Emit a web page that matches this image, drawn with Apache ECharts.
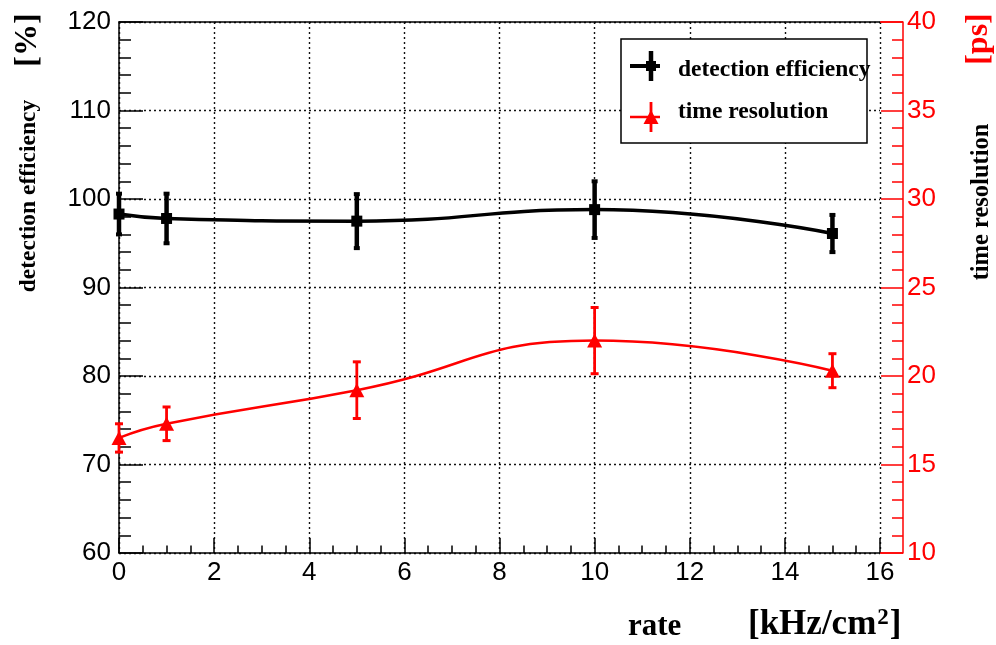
<!DOCTYPE html>
<html>
<head>
<meta charset="utf-8">
<style>
html,body{margin:0;padding:0;background:#fff;}
#main{width:996px;height:645px;}
</style>
<script src="https://cdn.jsdelivr.net/npm/echarts@6/dist/echarts.min.js"></script>
</head>
<body>
<div id="main"></div>
<script>
// ---- data ----
const rates = [0, 1, 5, 10, 15];
const effValues = [98.3, 97.8, 97.5, 98.8, 96.1];
const effErrors = [2.3, 2.8, 3.05, 3.2, 2.1];
const resValues = [16.5, 17.3, 19.2, 22.0, 20.3];
const resErrors = [0.8, 0.95, 1.6, 1.87, 0.96];
const xTicks = [0, 2, 4, 6, 8, 10, 12, 14, 16];
const effTicks = [60, 70, 80, 90, 100, 110, 120];
const resTicks = [10, 15, 20, 25, 30, 35, 40];

const effData = rates.map((r, i) => [r, effValues[i]]);
const resData = rates.map((r, i) => [r, resValues[i]]);
const effErrData = rates.map((r, i) => [r, effValues[i], effErrors[i]]);
const resErrData = rates.map((r, i) => [r, resValues[i], resErrors[i]]);

const chart = echarts.init(document.getElementById('main'));
const labelFont = {fontFamily: 'Liberation Sans', fontSize: 26};
const serifBold = 'Liberation Serif';

function errRenderer(color, lw, capW, capH) {
  return function (params, api) {
    const x = api.value(0), y = api.value(1), e = api.value(2);
    const top = api.coord([x, y + e]);
    const bot = api.coord([x, y - e]);
    return {
      type: 'group',
      children: [
        {type: 'line', shape: {x1: top[0], y1: top[1], x2: bot[0], y2: bot[1]}, style: {stroke: color, lineWidth: lw}},
        {type: 'rect', shape: {x: top[0] - capW / 2, y: top[1] - capH / 2, width: capW, height: capH}, style: {fill: color}},
        {type: 'rect', shape: {x: bot[0] - capW / 2, y: bot[1] - capH / 2, width: capW, height: capH}, style: {fill: color}}
      ]
    };
  };
}

const dotted = {color: '#111', width: 1.4, type: [2, 3]};

const option = {
  animation: false,
  backgroundColor: '#fff',
  grid: {left: 119, right: 116, top: 22, bottom: 92, containLabel: false},
  xAxis: [
    {
      type: 'value', min: xTicks[0], max: xTicks[xTicks.length - 1], interval: 2,
      axisLine: {show: true, onZero: false, lineStyle: {color: '#000', width: 1.5}},
      axisTick: {show: true, inside: true, length: 15, lineStyle: {color: '#000', width: 1.5}},
      minorTick: {show: true, splitNumber: 4, length: 7.5, lineStyle: {color: '#000', width: 1.5}},
      axisLabel: Object.assign({color: '#000', margin: 7}, labelFont),
      splitLine: {show: true, lineStyle: dotted}
    },
    {
      type: 'value', position: 'top', min: xTicks[0], max: xTicks[xTicks.length - 1], interval: 2,
      axisLine: {show: true, onZero: false, lineStyle: {color: '#000', width: 1.5}},
      axisTick: {show: false}, axisLabel: {show: false}, splitLine: {show: false}
    }
  ],
  yAxis: [
    {
      type: 'value', min: effTicks[0], max: effTicks[effTicks.length - 1], interval: 10,
      axisLine: {show: true, onZero: false, lineStyle: {color: '#000', width: 1.5}},
      axisTick: {show: true, inside: true, length: 24, lineStyle: {color: '#000', width: 1.5}},
      minorTick: {show: true, splitNumber: 5, length: 12, lineStyle: {color: '#000', width: 1.5}},
      axisLabel: Object.assign({color: '#000', margin: 8}, labelFont),
      splitLine: {show: true, lineStyle: dotted}
    },
    {
      type: 'value', position: 'right', offset: 23,
      min: resTicks[0], max: resTicks[resTicks.length - 1], interval: 5,
      axisLine: {show: true, onZero: false, lineStyle: {color: '#ff0000', width: 1.5}},
      axisTick: {show: true, inside: true, length: 22, lineStyle: {color: '#ff0000', width: 1.5}},
      minorTick: {show: true, splitNumber: 5, length: 11, lineStyle: {color: '#ff0000', width: 1.5}},
      axisLabel: Object.assign({color: '#ff0000', margin: 4}, labelFont),
      splitLine: {show: false}
    }
  ],
  series: [
    {
      type: 'custom', name: 'effErr', xAxisIndex: 0, yAxisIndex: 0,
      renderItem: errRenderer('#000', 4.5, 6, 4), data: effErrData, encode: {x: 0, y: 1}, z: 3
    },
    {
      type: 'line', name: 'detection efficiency', xAxisIndex: 0, yAxisIndex: 0,
      data: effData, smooth: 0.5, symbol: 'rect', symbolSize: 11,
      lineStyle: {color: '#000', width: 3.5}, itemStyle: {color: '#000'}, z: 4
    },
    {
      type: 'custom', name: 'resErr', xAxisIndex: 0, yAxisIndex: 1,
      renderItem: errRenderer('#ff0000', 2.8, 8, 3), data: resErrData, encode: {x: 0, y: 1}, z: 3
    },
    {
      type: 'line', name: 'time resolution', xAxisIndex: 0, yAxisIndex: 1,
      data: resData, smooth: 0.5, symbol: 'triangle', symbolSize: [15, 14],
      lineStyle: {color: '#ff0000', width: 2.5}, itemStyle: {color: '#ff0000'}, z: 4
    }
  ],
  graphic: [
    // red bracket joining the offset right axis to the frame
    {type: 'line', shape: {x1: 880, y1: 22, x2: 903, y2: 22}, style: {stroke: '#ff0000', lineWidth: 1.5}, z: 10},
    {type: 'line', shape: {x1: 880, y1: 553, x2: 903, y2: 553}, style: {stroke: '#ff0000', lineWidth: 1.5}, z: 10},
    // legend box
    {type: 'rect', shape: {x: 621, y: 39, width: 246, height: 104}, style: {fill: '#fff', stroke: '#000', lineWidth: 1.5}, z: 20},
    {type: 'line', shape: {x1: 630, y1: 66, x2: 660, y2: 66}, style: {stroke: '#000', lineWidth: 4}, z: 21},
    {type: 'line', shape: {x1: 651, y1: 51, x2: 651, y2: 81}, style: {stroke: '#000', lineWidth: 4.5}, z: 21},
    {type: 'rect', shape: {x: 646, y: 61, width: 10, height: 10}, style: {fill: '#000'}, z: 21},
    {type: 'line', shape: {x1: 630, y1: 117, x2: 660, y2: 117}, style: {stroke: '#ff0000', lineWidth: 2.5}, z: 21},
    {type: 'line', shape: {x1: 651, y1: 102, x2: 651, y2: 132}, style: {stroke: '#ff0000', lineWidth: 2.8}, z: 21},
    {type: 'polygon', shape: {points: [[651, 110], [658.5, 124], [643.5, 124]]}, style: {fill: '#ff0000'}, z: 21},
    {type: 'text', x: 678, y: 70, z: 21, style: {text: 'detection efficiency', fontFamily: serifBold, fontWeight: 'bold', fontSize: 23.5, fill: '#000', verticalAlign: 'middle', align: 'left'}},
    {type: 'text', x: 678, y: 112, z: 21, style: {text: 'time resolution', fontFamily: serifBold, fontWeight: 'bold', fontSize: 23.5, fill: '#000', verticalAlign: 'middle', align: 'left'}},
    // axis titles
    {type: 'text', x: 28, y: 40, rotation: Math.PI / 2, style: {text: '[%]', fontFamily: serifBold, fontWeight: 'bold', fontSize: 32, fill: '#000', align: 'center', verticalAlign: 'middle'}},
    {type: 'text', x: 29, y: 196, rotation: Math.PI / 2, style: {text: 'detection efficiency', fontFamily: serifBold, fontWeight: 'bold', fontSize: 23.5, fill: '#000', align: 'center', verticalAlign: 'middle'}},
    {type: 'text', x: 979, y: 39, rotation: Math.PI / 2, style: {text: '[ps]', fontFamily: serifBold, fontWeight: 'bold', fontSize: 32, fill: '#ff0000', align: 'center', verticalAlign: 'middle'}},
    {type: 'text', x: 982, y: 202, rotation: Math.PI / 2, style: {text: 'time resolution', fontFamily: serifBold, fontWeight: 'bold', fontSize: 24.5, fill: '#000', align: 'center', verticalAlign: 'middle'}},
    {type: 'text', x: 628, y: 627, style: {text: 'rate', fontFamily: serifBold, fontWeight: 'bold', fontSize: 31, fill: '#000', align: 'left', verticalAlign: 'middle'}},
    {type: 'text', x: 748, y: 625, style: {
      text: '{a|[kHz/cm}{s|2}{a|]}', align: 'left', verticalAlign: 'middle',
      rich: {
        a: {fontFamily: serifBold, fontWeight: 'bold', fontSize: 35, fill: '#000', color: '#000'},
        s: {fontFamily: serifBold, fontWeight: 'bold', fontSize: 23, fill: '#000', color: '#000', padding: [0, 1, 13, 1]}
      }
    }}
  ]
};
chart.setOption(option);
</script>
</body>
</html>
